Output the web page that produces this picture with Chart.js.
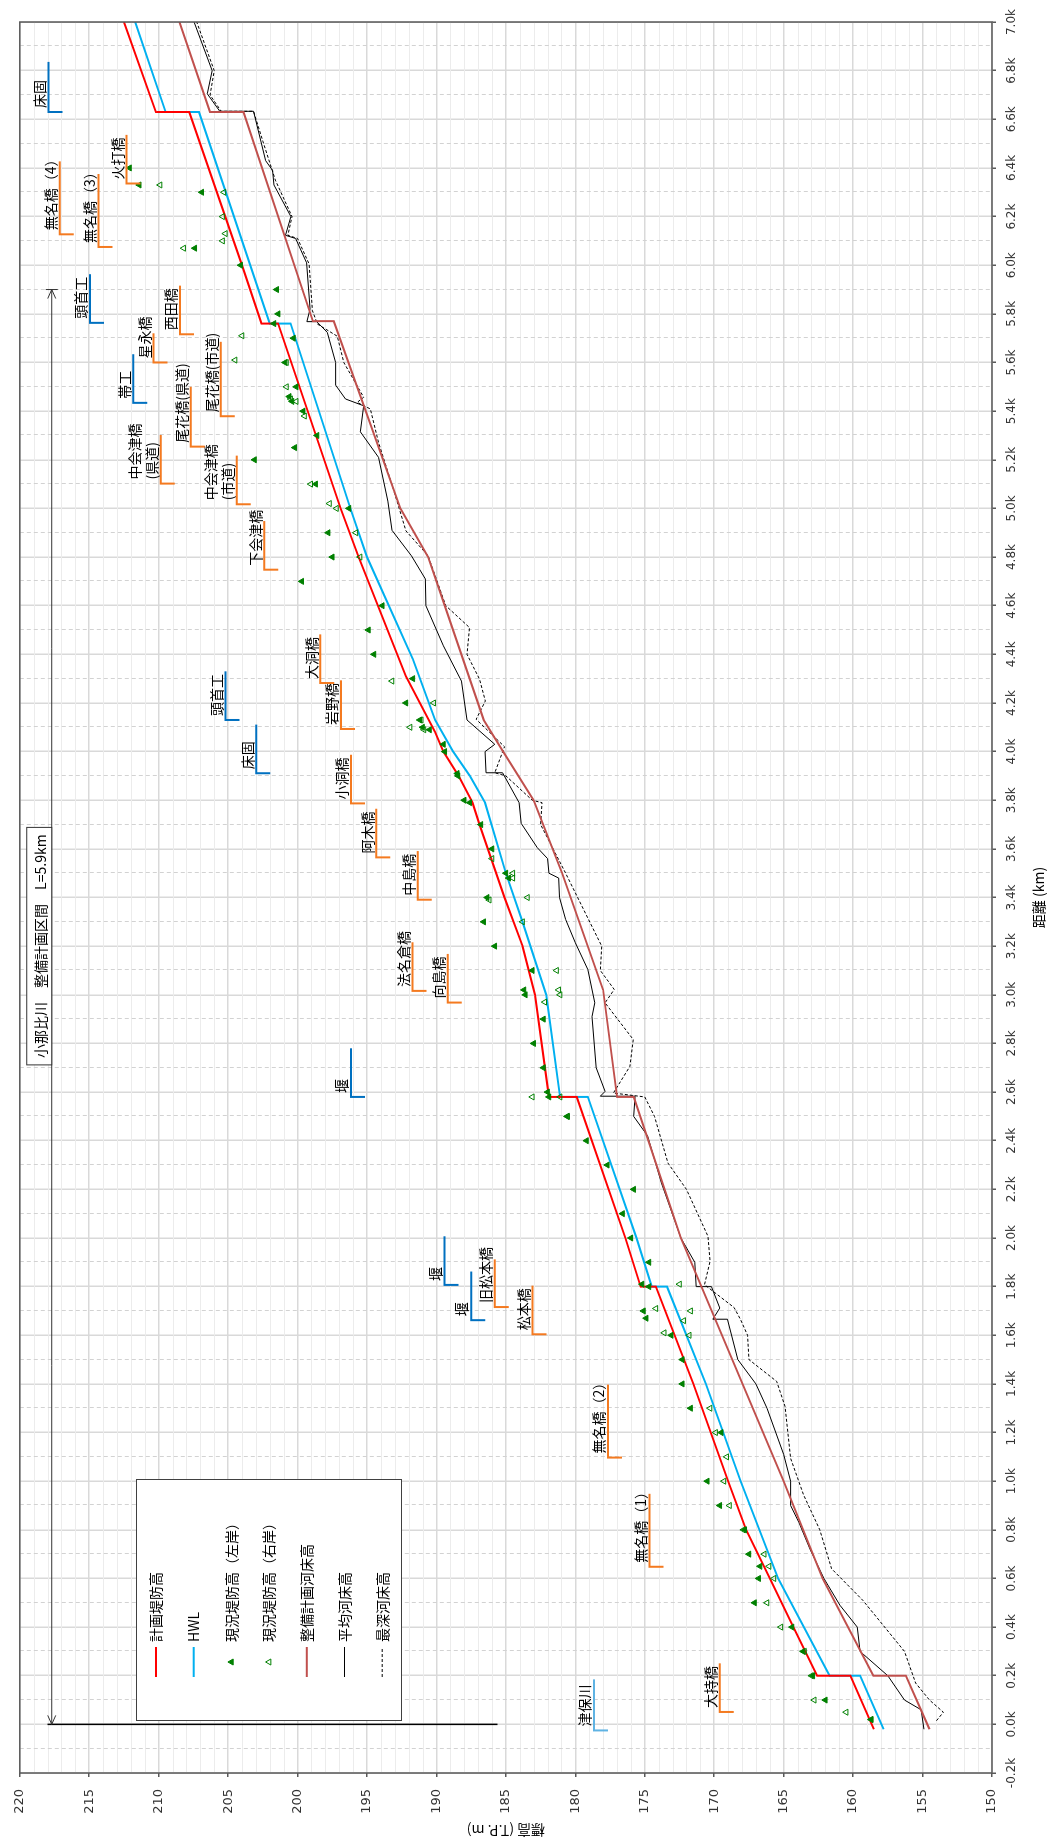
<!DOCTYPE html>
<html lang="ja">
<head>
<meta charset="utf-8">
<title>小那比川 縦断図</title>
<script src="https://cdn.jsdelivr.net/npm/chart.js@4.4.1/dist/chart.umd.min.js"></script>
<style>
  html, body { margin: 0; padding: 0; background: #fff; overflow: hidden; }
  /* o gráfico é desenhado deitado e girado 90° para a página em pé */
  #wrap { position: absolute; left: 0; top: 0; width: 1843px; height: 1047px;
          transform-origin: 0 0; transform: translateY(1843px) rotate(-90deg); }
</style>
</head>
<body>
<div id="wrap"><canvas id="perfil" width="1843" height="1047"></canvas></div>
<script>
// Dados: [distância (km), cota (T.P. m)]
const diqueProjeto = [
  [-0.02,158.5],[0.2,160.2],[0.2,162.6],[0.4,164.3],[0.6,166.0],[0.8,167.7],[1.0,169.0],[1.4,171.5],
  [1.8,174.2],[1.8,175.3],[2.0,176.4],[2.58,179.9],[2.58,181.9],[3.0,182.9],[3.2,183.8],[3.4,185.1],
  [3.7,186.9],[3.79,187.4],[3.9,188.4],[4.0,189.5],[4.08,190.1],[4.31,192.2],[4.8,195.6],[5.0,196.9],
  [5.76,201.4],[5.76,202.6],[6.0,204.0],[6.63,207.8],[6.63,210.2],[7.0,212.5]
];
const hwl = [
  [-0.02,157.8],[0.2,159.5],[0.2,161.7],[0.6,165.4],[1.0,168.1],[1.4,170.6],[1.8,173.4],[1.8,174.5],
  [2.0,175.6],[2.58,179.1],[2.58,181.1],[3.0,182.1],[3.3,183.8],[3.5,185.0],[3.79,186.5],[3.9,187.6],
  [4.0,188.8],[4.13,190.1],[4.38,191.7],[4.8,195.0],[5.0,196.2],[5.76,200.5],[5.76,202.0],[6.63,207.1],
  [6.63,209.5],[7.0,211.7]
];
const diqueEsquerdo = [
  [0.02,158.7],[0.1,162.0],[0.2,162.9],[0.3,163.6],[0.4,164.4],[0.5,167.1],[0.6,166.8],[0.65,166.7],
  [0.7,167.5],[0.8,167.8],[0.9,169.6],[1.0,170.5],[1.2,169.5],[1.3,171.7],[1.4,172.3],[1.5,172.3],
  [1.6,173.1],[1.67,174.9],[1.7,175.1],[1.8,174.7],[1.81,175.2],[1.9,174.7],[2.0,176.0],[2.1,176.6],
  [2.2,175.8],[2.3,177.7],[2.4,179.2],[2.5,180.6],[2.58,181.9],[2.6,182.0],[2.7,182.3],[2.8,183.0],
  [2.9,182.3],[3.0,183.6],[3.02,183.7],[3.1,183.1],[3.2,185.8],[3.3,186.6],[3.4,186.35],[3.48,184.8],
  [3.5,185.0],[3.6,186.0],[3.7,186.8],[3.79,187.6],[3.8,188.0],[3.9,188.45],[3.91,188.5],[4.0,189.4],
  [4.03,189.5],[4.09,190.5],[4.1,191.0],[4.13,191.2],[4.2,192.2],[4.3,191.7],[4.4,194.5],[4.5,194.9],
  [4.6,193.9],[4.7,199.7],[4.8,197.5],[4.9,197.8],[5.0,196.3],[5.1,198.7],[5.2,203.1],[5.25,200.2],
  [5.3,198.6],[5.4,199.6],[5.44,200.4],[5.46,200.6],[5.5,200.1],[5.6,200.9],[5.7,200.3],[5.76,201.7],
  [5.8,201.4],[5.9,201.5],[6.0,204.1],[6.07,207.4],[6.3,206.9],[6.33,211.4],[6.4,212.1]
];
const diqueDireito = [
  [0.02,158.7],[0.05,160.5],[0.1,162.8],[0.2,163.0],[0.3,163.5],[0.4,165.2],[0.5,166.2],[0.6,165.7],
  [0.65,166.05],[0.7,166.4],[0.8,167.9],[0.9,168.9],[1.0,169.3],[1.1,169.1],[1.2,169.9],[1.3,170.3],
  [1.6,171.8],[1.61,173.6],[1.66,172.2],[1.7,171.7],[1.71,174.2],[1.81,172.5],[2.5,180.55],[2.58,181.1],
  [2.58,183.1],[2.97,182.2],[3.0,181.1],[3.02,181.2],[3.1,181.35],[3.3,183.8],[3.39,186.2],[3.4,183.45],
  [3.48,184.5],[3.5,184.5],[3.56,186.0],[4.09,190.9],[4.1,191.9],[4.13,191.1],[4.2,190.2],[4.29,193.2],
  [4.8,195.5],[4.9,195.8],[5.0,197.2],[5.02,197.7],[5.1,199.05],[5.38,199.5],[5.44,200.1],[5.45,200.5],
  [5.5,200.8],[5.6,200.8],[5.61,204.5],[5.71,204.0],[6.07,208.2],[6.1,205.4],[6.13,205.2],[6.2,205.4],
  [6.3,205.3],[6.33,209.9]
];
const leitoProjeto = [
  [-0.02,154.5],[0.2,156.2],[0.2,158.55],[0.6,162.2],[1.0,165.0],[2.0,172.4],[2.58,175.8],[2.58,177.0],
  [3.02,178.0],[3.5,180.95],[3.8,183.0],[4.0,185.2],[4.13,186.6],[4.6,189.4],[4.8,190.6],[5.0,192.6],
  [5.77,197.4],[5.77,198.9],[6.63,203.9],[6.63,206.3],[7.0,208.5]
];
const leitoMedio = [
  [-0.02,154.9],[0.06,155.1],[0.1,156.3],[0.2,157.5],[0.3,159.5],[0.4,159.7],[0.49,160.95],[0.6,162.1],
  [0.72,163.1],[0.83,163.9],[0.9,164.5],[1.0,164.5],[1.11,165.0],[1.3,166.2],[1.4,167.0],[1.5,168.3],
  [1.666,169.05],[1.666,170.1],[1.712,169.6],[1.8,170.2],[1.8,171.3],[1.9,171.4],[2.0,172.4],[2.226,173.8],
  [2.42,174.8],[2.5,175.8],[2.583,175.7],[2.583,178.2],[2.603,177.86],[2.7,178.5],[2.91,178.8],[2.967,178.6],
  [3.104,179.1],[3.214,180.0],[3.31,180.7],[3.4,181.14],[3.48,181.2],[3.5,181.9],[3.56,182.0],[3.605,182.74],
  [3.705,183.9],[3.79,184.05],[3.913,185.24],[3.913,186.43],[4.0,186.5],[4.03,185.8],[4.13,187.8],[4.29,188.2],
  [4.435,189.5],[4.6,190.76],[4.71,190.8],[4.805,191.8],[4.91,193.2],[5.03,193.5],[5.21,194.17],[5.315,195.48],
  [5.422,195.24],[5.45,196.55],[5.507,197.26],[5.6,197.26],[5.724,197.86],[5.768,198.62],[5.768,199.33],[5.82,199.1],
  [6.01,199.35],[6.11,200.14],[6.123,200.87],[6.2,200.48],[6.33,201.7],[6.39,201.8],[6.43,202.3],[6.633,203.17],
  [6.633,205.6],[6.705,206.5],[6.8,206.15],[7.0,207.45]
];
const leitoProfundo = [
  [0.015,154.0],[0.05,153.5],[0.1,154.5],[0.17,155.5],[0.3,156.3],[0.51,159.3],[0.64,161.55],[0.8,162.4],
  [0.944,163.57],[1.094,164.5],[1.307,164.9],[1.41,165.5],[1.5,167.5],[1.6,167.6],[1.664,168.1],[1.714,168.57],
  [1.808,170.7],[1.904,170.3],[2.007,170.45],[2.2,172.0],[2.308,173.33],[2.5,174.3],[2.58,175.0],[2.596,177.26],
  [2.706,176.07],[2.816,175.83],[2.967,177.86],[3.022,177.2],[3.1,178.2],[3.2,178.1],[3.5,180.7],[3.7,182.5],
  [3.79,182.4],[3.8,183.1],[3.9,185.0],[3.913,185.8],[4.02,185.1],[4.133,187.14],[4.208,186.48],[4.298,186.9],
  [4.4,187.8],[4.51,187.62],[4.6,189.33],[4.805,190.6],[4.908,192.2],[5.079,193.1],[5.271,194.17],[5.409,194.76],
  [5.436,195.71],[5.457,195.24],[5.6,196.67],[5.708,197.14],[5.758,198.57],[5.813,198.93],[6.005,199.17],[6.11,200.0],
  [6.123,200.7],[6.2,200.4],[6.35,201.6],[6.51,202.5],[6.633,203.17],[6.633,205.5],[6.7,206.3],[6.8,206.0],
  [7.0,207.26]
];

// Pontes e estruturas: nome, início (km), comprimento do traço (km), cota do traço, tipo
const nomesMarcos = ['津保川','大持橋','無名橋（1）','無名橋（2）','松本橋','堰','旧松本橋','堰','堰','向島橋',
  '法名倉橋','中島橋','阿木橋','小洞橋','床固','岩野橋','頭首工','大洞橋','下会津橋','中会津橋\n(市道)',
  '中会津橋\n(県道)','尾花橋(県道)','尾花橋(市道)','帯工','星永橋','西田橋','頭首工','無名橋（3）','無名橋（4）',
  '火打橋','床固'];
const kmMarcos = [-0.025,0.051,0.648,1.097,1.604,1.662,1.716,1.807,2.58,2.968,
  3.016,3.391,3.565,3.787,3.911,4.093,4.13,4.282,4.748,5.017,
  5.102,5.254,5.379,5.434,5.6,5.716,5.763,6.075,6.127,6.336,6.63];
const compMarcos = [0.21,0.2,0.3,0.3,0.2,0.2,0.196,0.2,0.2,0.2,
  0.2,0.2,0.2,0.2,0.2,0.2,0.2,0.2,0.2,0.2,
  0.2,0.246,0.306,0.2,0.12,0.2,0.2,0.3,0.3,0.2,0.206];
const cotaMarcos = [178.65,169.6,174.66,177.64,183.08,187.5,185.8,189.42,196.15,189.18,
  191.73,191.35,194.33,196.15,202.98,196.88,205.19,198.37,202.4,204.38,
  209.86,207.69,205.53,211.83,210.38,208.46,214.95,214.33,217.12,212.31,217.93];
const tipoMarcos = ['rio','ponte','ponte','ponte','ponte','obra','ponte','obra','obra','ponte',
  'ponte','ponte','ponte','ponte','obra','ponte','obra','ponte','ponte','ponte',
  'ponte','ponte','ponte','obra','ponte','ponte','obra','ponte','ponte','ponte','obra'];

// Trecho do plano de obras (km) e cotas da seta
const trechoKm = [0.0, 5.9];
const cotaSeta = 217.7;
const linhaInicio = [218.0, 185.6];
const textoTrecho = '小那比川　整備計画区間　L=5.9km';
const centroTrecho = [3.2, 218.6];

const FONTE_JP = '"Noto Sans CJK JP", "Noto Sans", sans-serif';
const FONTE_NUM = '"DejaVu Sans", sans-serif';
const coresMarcos = { ponte: '#f47a20', obra: '#0070c0', rio: '#5fb3e3' };

const pts = arr => arr.map(([x, y]) => ({ x, y }));

// Grade secundária (1 m e 0,1 km) e moldura
const gradeMenor = {
  id: 'gradeMenor',
  beforeDatasetsDraw(chart) {
    const { ctx, chartArea: a, scales: { x, y } } = chart;
    ctx.save();
    ctx.strokeStyle = '#ececec';
    ctx.lineWidth = 1;
    for (let e = 151; e < 220; e++) {
      if (e % 5 === 0) continue;
      const py = Math.round(y.getPixelForValue(e)) + 0.5;
      ctx.beginPath(); ctx.moveTo(a.left, py); ctx.lineTo(a.right, py); ctx.stroke();
    }
    ctx.strokeStyle = '#d2d2d2';
    ctx.setLineDash([4, 3]);
    for (let i = -1; i < 70; i += 2) {
      const px = Math.round(x.getPixelForValue(i / 10)) + 0.5;
      ctx.beginPath(); ctx.moveTo(px, a.top); ctx.lineTo(px, a.bottom); ctx.stroke();
    }
    ctx.restore();
  },
  afterDatasetsDraw(chart) {
    const { ctx, chartArea: a } = chart;
    ctx.save();
    ctx.strokeStyle = '#595959';
    ctx.lineWidth = 1.5;
    ctx.strokeRect(a.left, a.top, a.right - a.left, a.bottom - a.top);
    ctx.restore();
  }
};

// Pontes, estruturas, seta do trecho e caixa de texto
const marcos = {
  id: 'marcos',
  afterDatasetsDraw(chart) {
    const { ctx, scales: { x, y } } = chart;
    ctx.save();
    ctx.font = '14px ' + FONTE_JP;
    ctx.textBaseline = 'ideographic';
    nomesMarcos.forEach((nome, i) => {
      const x0 = x.getPixelForValue(kmMarcos[i]);
      const x1 = x.getPixelForValue(kmMarcos[i] + compMarcos[i]);
      const py = y.getPixelForValue(cotaMarcos[i]);
      ctx.strokeStyle = coresMarcos[tipoMarcos[i]];
      ctx.lineWidth = 2;
      ctx.beginPath();
      ctx.moveTo(x0, py + 14); ctx.lineTo(x0, py); ctx.lineTo(x1, py);
      ctx.stroke();
      ctx.fillStyle = '#000';
      const linhas = nome.split('\n');
      linhas.forEach((t, j) => {
        ctx.fillText(t, x0 + 4, py - 2 - (linhas.length - 1 - j) * 17);
      });
    });

    // linha de início e seta do trecho
    const xa = x.getPixelForValue(trechoKm[0]);
    const xb = x.getPixelForValue(trechoKm[1]);
    const ys = y.getPixelForValue(cotaSeta);
    ctx.strokeStyle = '#000';
    ctx.lineWidth = 1.5;
    ctx.beginPath();
    ctx.moveTo(xa, y.getPixelForValue(linhaInicio[0]));
    ctx.lineTo(xa, y.getPixelForValue(linhaInicio[1]));
    ctx.stroke();
    ctx.strokeStyle = '#333';
    ctx.lineWidth = 1;
    ctx.beginPath();
    ctx.moveTo(xa, ys); ctx.lineTo(xb, ys);
    ctx.moveTo(xa + 9, ys - 4); ctx.lineTo(xa, ys); ctx.lineTo(xa + 9, ys + 4);
    ctx.moveTo(xb - 9, ys - 4); ctx.lineTo(xb, ys); ctx.lineTo(xb - 9, ys + 4);
    ctx.moveTo(xb, ys - 6); ctx.lineTo(xb, ys + 6);
    ctx.stroke();

    // caixa com o nome do trecho
    ctx.font = '14px ' + FONTE_JP;
    const w = ctx.measureText(textoTrecho).width + 14;
    const cx = x.getPixelForValue(centroTrecho[0]);
    const cy = y.getPixelForValue(centroTrecho[1]);
    const h = 25;
    ctx.fillStyle = '#fff';
    ctx.fillRect(cx - w / 2, cy - h / 2, w, h);
    ctx.strokeStyle = '#333';
    ctx.lineWidth = 1;
    ctx.strokeRect(cx - w / 2, cy - h / 2, w, h);
    ctx.fillStyle = '#000';
    ctx.textAlign = 'center';
    ctx.textBaseline = 'middle';
    ctx.fillText(textoTrecho, cx, cy + 1);
    ctx.restore();
  }
};

// Legenda desenhada dentro da área do gráfico
const ordemLegenda = ['計画堤防高', 'HWL', '現況堤防高（左岸）', '現況堤防高（右岸）', '整備計画河床高', '平均河床高', '最深河床高'];
const legenda = {
  id: 'legenda',
  afterDraw(chart) {
    const { ctx } = chart;
    const bx = 122, by = 136, bw = 241, bh = 265;
    ctx.save();
    ctx.fillStyle = '#fff';
    ctx.fillRect(bx, by, bw, bh);
    ctx.strokeStyle = '#404040';
    ctx.lineWidth = 1;
    ctx.strokeRect(bx + 0.5, by + 0.5, bw, bh);
    ctx.font = '14px ' + FONTE_JP;
    ctx.textBaseline = 'middle';
    ordemLegenda.forEach((rotulo, k) => {
      const ds = chart.data.datasets.find(d => d.label === rotulo);
      const cy = by + 20 + k * 37.7;
      if (ds.showLine) {
        ctx.strokeStyle = ds.borderColor;
        ctx.lineWidth = ds.borderWidth;
        ctx.setLineDash(ds.borderDash || []);
        ctx.beginPath(); ctx.moveTo(166, cy); ctx.lineTo(196, cy); ctx.stroke();
        ctx.setLineDash([]);
      } else {
        const r = ds.pointRadius;
        ctx.fillStyle = ds.backgroundColor;
        ctx.strokeStyle = ds.borderColor;
        ctx.lineWidth = 1;
        ctx.beginPath();
        ctx.moveTo(181, cy - r);
        ctx.lineTo(181 + r * 0.866, cy + r * 0.5);
        ctx.lineTo(181 - r * 0.866, cy + r * 0.5);
        ctx.closePath();
        ctx.fill(); ctx.stroke();
      }
      ctx.fillStyle = '#000';
      ctx.fillText(rotulo, 201, cy);
    });
    ctx.restore();
  }
};

const linha = (label, data, cor, largura, extra) => Object.assign({
  label, data: pts(data), showLine: true, borderColor: cor, borderWidth: largura,
  pointRadius: 0, tension: 0, fill: false
}, extra || {});

const config = {
  type: 'scatter',
  data: {
    datasets: [
      { label: '現況堤防高（左岸）', data: pts(diqueEsquerdo), showLine: false, pointStyle: 'triangle',
        pointRadius: 3.5, backgroundColor: '#008000', borderColor: '#008000', borderWidth: 1, order: 1 },
      { label: '現況堤防高（右岸）', data: pts(diqueDireito), showLine: false, pointStyle: 'triangle',
        pointRadius: 3.5, backgroundColor: 'rgba(255,255,255,0)', borderColor: '#008000', borderWidth: 1, order: 2 },
      linha('計画堤防高', diqueProjeto, '#ff0000', 2, { order: 3 }),
      linha('HWL', hwl, '#00b0f0', 2, { order: 4 }),
      linha('整備計画河床高', leitoProjeto, '#c0504d', 2, { order: 5 }),
      linha('平均河床高', leitoMedio, '#000000', 1, { order: 6 }),
      linha('最深河床高', leitoProfundo, '#000000', 1, { order: 7, borderDash: [3, 2] })
    ]
  },
  options: {
    responsive: false,
    animation: false,
    layout: { padding: { top: 15, right: 19, left: 0, bottom: 0 } },
    plugins: { legend: { display: false }, tooltip: { enabled: false } },
    scales: {
      x: {
        type: 'linear', min: -0.2, max: 7.0,
        afterFit: s => { s.height = 55; },
        ticks: {
          stepSize: 0.2, autoSkip: false, maxRotation: 0, padding: 9, color: '#333',
          font: { family: FONTE_NUM, size: 12 },
          callback: v => (Math.abs(v) < 1e-9 ? 0 : v).toFixed(1) + 'k'
        },
        grid: { color: '#d9d9d9', lineWidth: 1.5, tickLength: 4, tickColor: '#595959' },
        border: { display: false },
        title: { display: true, text: '距離 (km)', color: '#000', font: { family: FONTE_JP, size: 14 },
                 padding: { top: 0, bottom: 0 } }
      },
      y: {
        type: 'linear', min: 150, max: 220,
        afterFit: s => { s.width = 70; },
        ticks: { stepSize: 5, padding: 12, color: '#333', font: { family: FONTE_NUM, size: 13 } },
        grid: { color: '#d9d9d9', lineWidth: 1.5, tickLength: 4, tickColor: '#595959' },
        border: { display: false },
        title: { display: true, text: '標高 (T.P. m)', color: '#000', font: { family: FONTE_JP, size: 14 },
                 padding: { top: 4, bottom: 0 } }
      }
    }
  },
  plugins: [gradeMenor, marcos, legenda]
};

new Chart(document.getElementById('perfil'), config);
</script>
</body>
</html>
